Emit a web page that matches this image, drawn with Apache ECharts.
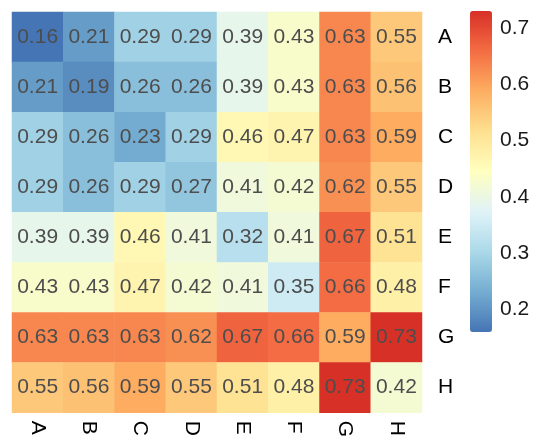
<!DOCTYPE html>
<html>
<head>
<meta charset="utf-8">
<script src="https://cdn.jsdelivr.net/npm/echarts@6/dist/echarts.min.js"></script>
<style>html,body{margin:0;padding:0;background:#fff;}#c{width:536px;height:440px;}</style>
</head>
<body>
<div id="c"></div>
<script>
const xCategories = ['A','B','C','D','E','F','G','H'];
const yCategories = ['A','B','C','D','E','F','G','H'];
const rowA = [0.16,0.21,0.29,0.29,0.39,0.43,0.63,0.55];
const rowB = [0.21,0.19,0.26,0.26,0.39,0.43,0.63,0.56];
const rowC = [0.29,0.26,0.23,0.29,0.46,0.47,0.63,0.59];
const rowD = [0.29,0.26,0.29,0.27,0.41,0.42,0.62,0.55];
const rowE = [0.39,0.39,0.46,0.41,0.32,0.41,0.67,0.51];
const rowF = [0.43,0.43,0.47,0.42,0.41,0.35,0.66,0.48];
const rowG = [0.63,0.63,0.63,0.62,0.67,0.66,0.59,0.73];
const rowH = [0.55,0.56,0.59,0.55,0.51,0.48,0.73,0.42];
const colorbarTicks = [0.2,0.3,0.4,0.5,0.6,0.7];
const colorMin = 0.16, colorMax = 0.73;

const rows = [rowA,rowB,rowC,rowD,rowE,rowF,rowG,rowH];
const data = [];
rows.forEach((r, yi) => r.forEach((v, xi) => data.push([xi, yi, v])));

const FONT = 'Liberation Sans, Arial, sans-serif';
const chart = echarts.init(document.getElementById('c'), null, {renderer:'canvas'});
chart.setOption({
  animation: false,
  grid: [
    {left: 12, top: 12, width: 410, height: 407},
    {left: 470, top: 11, width: 22, height: 321}
  ],
  xAxis: [
    {type:'category', data: xCategories, gridIndex: 0,
     axisLine:{show:false}, axisTick:{show:false}, splitLine:{show:false},
     axisLabel:{rotate:-90, margin:8, fontSize:21, color:'#000', fontFamily:FONT}},
    {type:'value', gridIndex:1, show:false}
  ],
  yAxis: [
    {type:'category', data: yCategories, gridIndex: 0, inverse: true, position:'right',
     axisLine:{show:false}, axisTick:{show:false}, splitLine:{show:false},
     axisLabel:{margin:16, fontSize:21, color:'#000', fontFamily:FONT}},
    {type:'value', gridIndex:1, min: colorMin, max: colorMax, position:'right',
     axisLine:{show:false}, axisTick:{show:false}, splitLine:{show:false},
     axisLabel:{customValues: colorbarTicks, margin:8, fontSize:21, color:'#1a1a1a', fontFamily:FONT,
       formatter: v => v.toFixed(1)}}
  ],
  visualMap: {
    type:'continuous', min: colorMin, max: colorMax, calculable:false, realtime:false,
    orient:'vertical', left: 470, top: 11, itemWidth: 22, itemHeight: 321,
    padding: 0, text: null, showLabel: false, seriesIndex: 0,
    inRange: {color: ['#4575b4','#74add1','#abd9e9','#e0f3f8','#ffffbf','#fee090','#fdae61','#f46d43','#d73027']}
  },
  series: [{
    type:'heatmap', xAxisIndex:0, yAxisIndex:0, data: data,
    label:{show:true, fontSize:21, color:'#4d4d4d', fontFamily:FONT, formatter: p => p.value[2].toFixed(2)},
    itemStyle:{borderWidth:0},
    emphasis:{disabled:true}
  }]
});
</script>
</body>
</html>
